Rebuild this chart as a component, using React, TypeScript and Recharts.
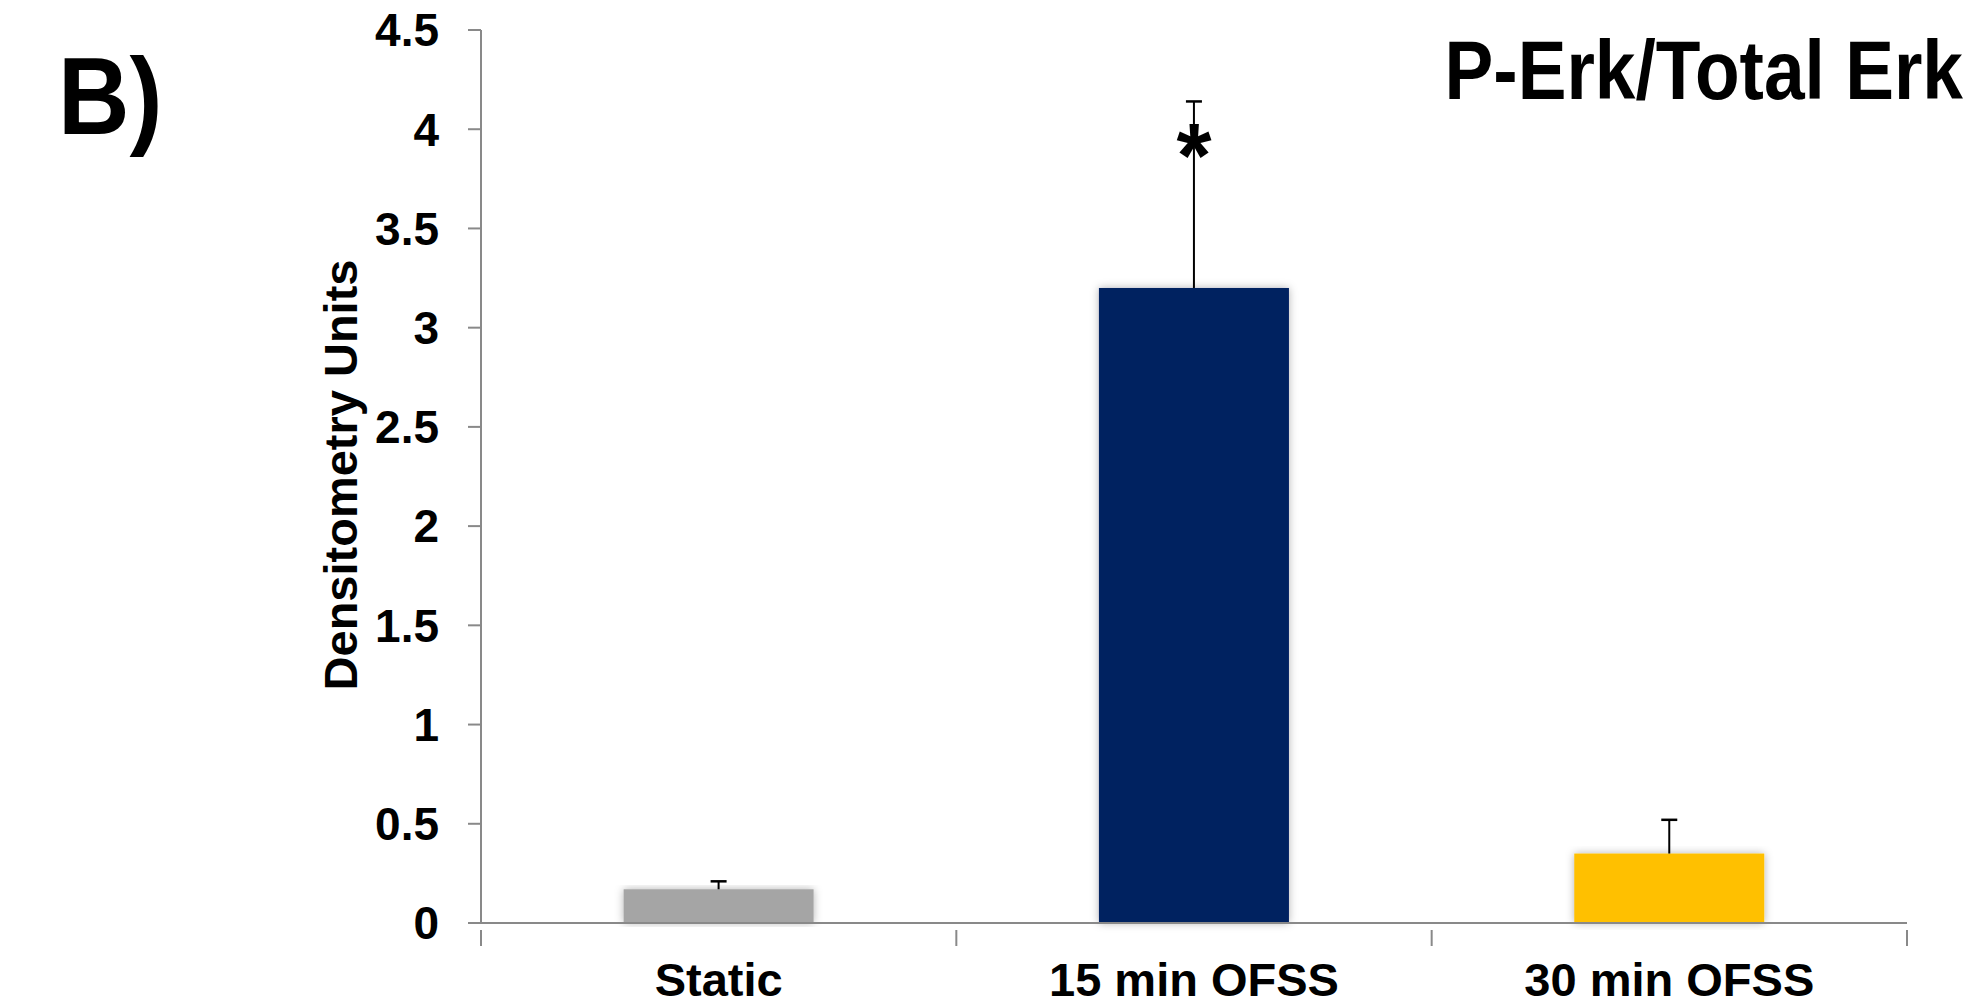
import { BarChart, Bar, XAxis, YAxis } from "recharts";

const categories = ["Static", "15 min OFSS", "30 min OFSS"];
const means = [0.17, 3.2, 0.35];
const errors = [0.04, 0.94, 0.17];
const significance = ["", "*", ""];
const barColors = ["#A5A5A5", "#002060", "#FFC000"];
const yTicks = [0, 0.5, 1, 1.5, 2, 2.5, 3, 3.5, 4, 4.5];

const data = categories.map((name, i) => ({
  name,
  value: means[i],
  err: errors[i],
  sig: significance[i],
  color: barColors[i],
}));

const W = 1973;
const H = 1005;
const margin = { top: 30, right: 66, bottom: 0, left: 321 };
const yAxisWidth = 160;
const xAxisHeight = 82;
const plotWidth = W - margin.left - yAxisWidth - margin.right;
const halfBand = plotWidth / categories.length / 2;
const font = "'Liberation Sans', Arial, Helvetica, sans-serif";
const axisColor = "#898989";

function BarWithError(props: any) {
  const { x, y, width, height, payload } = props;
  const perUnit = height / payload.value;
  const top = y - payload.err * perUnit;
  const cx = x + width / 2;
  return (
    <g>
      <rect x={x} y={y} width={width} height={height} fill={payload.color} filter="url(#barShadow)" />
      <line x1={cx} y1={y} x2={cx} y2={top} stroke="#000" strokeWidth={2} />
      <line x1={cx - 8} y1={top} x2={cx + 8} y2={top} stroke="#000" strokeWidth={2.5} />
      {payload.sig ? (
        <text x={cx} y={top + 86} textAnchor="middle" fontFamily={font} fontWeight="bold" fontSize={90} fill="#000">
          {payload.sig}
        </text>
      ) : null}
    </g>
  );
}

function CategoryTick(props: any) {
  const { x, y, payload, index } = props;
  const last = index === categories.length - 1;
  return (
    <g>
      <line x1={x - halfBand} y1={y - 1} x2={x - halfBand} y2={y + 15} stroke={axisColor} strokeWidth={2} />
      {last ? (
        <line x1={x + halfBand} y1={y - 1} x2={x + halfBand} y2={y + 15} stroke={axisColor} strokeWidth={2} />
      ) : null}
      <text x={x} y={y + 32} dy="0.71em" textAnchor="middle" fontFamily={font} fontWeight="bold" fontSize={47} fill="#000">
        {payload.value}
      </text>
    </g>
  );
}

export default function App() {
  return (
    <div style={{ position: "absolute", left: 0, top: 0, width: W, height: H, background: "#fff" }}>
      <svg width={0} height={0} style={{ position: "absolute" }}>
        <defs>
          <filter id="barShadow" x="-10%" y="-10%" width="120%" height="120%">
            <feDropShadow dx={0} dy={0} stdDeviation={4} floodColor="#000" floodOpacity={0.3} />
          </filter>
        </defs>
      </svg>
      <BarChart width={W} height={H} data={data} margin={margin} barCategoryGap="30%">
        <XAxis
          dataKey="name"
          height={xAxisHeight}
          axisLine={{ stroke: axisColor, strokeWidth: 2 }}
          tickLine={false}
          tick={<CategoryTick />}
          interval={0}
        />
        <YAxis
          width={yAxisWidth}
          domain={[0, 4.5]}
          ticks={yTicks}
          interval={0}
          axisLine={{ stroke: axisColor, strokeWidth: 2 }}
          tickLine={{ stroke: axisColor, strokeWidth: 2 }}
          tickSize={13}
          tickMargin={29}
          tick={{ fill: "#000", fontSize: 46, fontWeight: "bold", fontFamily: font }}
        />
        <Bar dataKey="value" isAnimationActive={false} shape={<BarWithError />} />
      </BarChart>
      <svg width={W} height={H} style={{ position: "absolute", left: 0, top: 0, pointerEvents: "none" }}>
        <text transform="translate(58,134) scale(0.9,1)" fontFamily={font} fontWeight="bold" fontSize={110} fill="#000">
          B)
        </text>
        <text transform="translate(1963,99) scale(0.87,1)" textAnchor="end" fontFamily={font} fontWeight="bold" fontSize={84} fill="#000">
          P-Erk/Total Erk
        </text>
        <text transform="translate(357,475) rotate(-90)" textAnchor="middle" fontFamily={font} fontWeight="bold" fontSize={47} fill="#000">
          Densitometry Units
        </text>
      </svg>
    </div>
  );
}
